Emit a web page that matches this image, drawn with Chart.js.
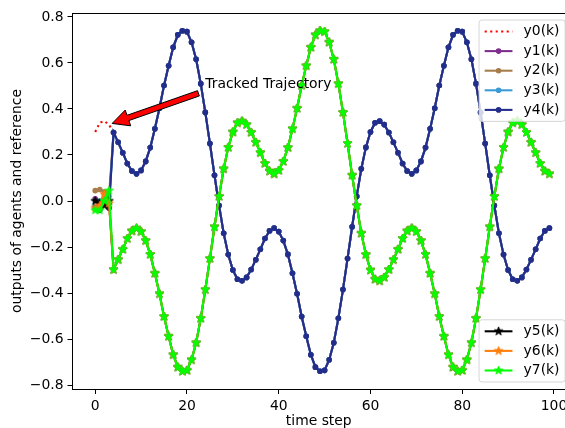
<!DOCTYPE html>
<html>
<head>
<meta charset="utf-8">
<script src="https://cdn.jsdelivr.net/npm/chart.js@4.4.1/dist/chart.umd.min.js"></script>
<style>
  html, body { margin: 0; padding: 0; overflow: hidden; background: #fff; }
  #wrap { width: 565px; height: 428px; }
</style>
</head>
<body>
<div id="wrap"><canvas id="outputs" width="565" height="428"></canvas></div>
<script>
// reference trajectory y0(k), k = 0..99
const reference = [
   0.300,  0.340,  0.347,  0.332,  0.298,  0.255,  0.210,  0.163,  0.130,  0.118,
   0.133,  0.172,  0.232,  0.314,  0.403,  0.502,  0.588,  0.668,  0.722,  0.740,
   0.736,  0.690,  0.616,  0.510,  0.385,  0.250,  0.112, -0.020, -0.140, -0.233,
  -0.300, -0.340, -0.347, -0.332, -0.298, -0.255, -0.210, -0.163, -0.130, -0.118,
  -0.133, -0.172, -0.232, -0.314, -0.403, -0.502, -0.588, -0.668, -0.722, -0.740,
  -0.736, -0.690, -0.616, -0.510, -0.385, -0.250, -0.112,  0.020,  0.140,  0.233,
   0.300,  0.340,  0.347,  0.332,  0.298,  0.255,  0.210,  0.163,  0.130,  0.118,
   0.133,  0.172,  0.232,  0.314,  0.403,  0.502,  0.588,  0.668,  0.722,  0.740,
   0.736,  0.690,  0.616,  0.510,  0.385,  0.250,  0.112, -0.020, -0.140, -0.233,
  -0.300, -0.340, -0.347, -0.332, -0.298, -0.255, -0.210, -0.163, -0.130, -0.118
];

// opposite-sign trajectory that agents 5..7 settle on, k = 4..99
const mirrored = [
                                  -0.298, -0.255, -0.210, -0.163, -0.130, -0.118,
  -0.133, -0.172, -0.232, -0.314, -0.403, -0.502, -0.588, -0.668, -0.722, -0.740,
  -0.736, -0.690, -0.616, -0.510, -0.385, -0.250, -0.112,  0.020,  0.140,  0.233,
   0.300,  0.340,  0.347,  0.332,  0.298,  0.255,  0.210,  0.163,  0.130,  0.118,
   0.133,  0.172,  0.232,  0.314,  0.403,  0.502,  0.588,  0.668,  0.722,  0.740,
   0.736,  0.690,  0.616,  0.510,  0.385,  0.250,  0.112, -0.020, -0.140, -0.233,
  -0.300, -0.340, -0.347, -0.332, -0.298, -0.255, -0.210, -0.163, -0.130, -0.118,
  -0.133, -0.172, -0.232, -0.314, -0.403, -0.502, -0.588, -0.668, -0.722, -0.740,
  -0.736, -0.690, -0.616, -0.510, -0.385, -0.250, -0.112,  0.020,  0.140,  0.233,
   0.300,  0.340,  0.347,  0.332,  0.298,  0.255,  0.210,  0.163,  0.130,  0.118
];

// agent outputs for k = 0..3, before they lock on
const startY1 = [0.010, -0.020, 0.030, -0.010];
const startY2 = [0.045, 0.050, 0.040, 0.020];
const startY3 = [-0.020, 0.000, 0.020, -0.030];
const startY4 = [-0.030, -0.040, 0.010, -0.030];
const startY5 = [0.000, -0.010, -0.020, 0.000];
const startY6 = [-0.030, -0.020, 0.030, -0.010];
const startY7 = [-0.040, -0.040, 0.000, 0.045];

const seriesNames = ['y0(k)', 'y1(k)', 'y2(k)', 'y3(k)', 'y4(k)', 'y5(k)', 'y6(k)', 'y7(k)'];
const seriesColors = ['#ff0000', '#7e2f8e', '#a67d4b', '#3b9bd6', '#232d8c', '#000000', '#ff7f0e', '#00ff00'];

const xTicks = [0, 20, 40, 60, 80, 100];
const yTicks = [-0.8, -0.6, -0.4, -0.2, 0.0, 0.2, 0.4, 0.6, 0.8];

// the axes run to 103.95 but the figure is cropped at about 102.4
const xMin = -4.95, xVisibleMax = 102.4, xAxesEnd = 103.95;

// annotation anchors in data units
const arrowTip = [3.7, 0.337];
const arrowTail = [22.5, 0.468];
const noteAt = [24, 0.49];
const noteText = 'Tracked Trajectory';

const FONT = '"DejaVu Sans", sans-serif';
const FS = 13.9;
const LW = 2.08;

const toPoints = (vals) => vals.map((v, k) => ({ x: k, y: v }));

// five-pointed star marker, drawn once per colour
function starMarker(color) {
  const r = 4.5, size = 13;
  const c = document.createElement('canvas');
  c.width = c.height = size;
  const g = c.getContext('2d');
  g.translate(size / 2, size / 2);
  g.beginPath();
  for (let i = 0; i < 10; i++) {
    const rad = i % 2 ? r * 0.382 : r;
    const a = -Math.PI / 2 + i * Math.PI / 5;
    g.lineTo(rad * Math.cos(a), rad * Math.sin(a));
  }
  g.closePath();
  g.fillStyle = color;
  g.fill();
  g.strokeStyle = color;
  g.lineWidth = 1;
  g.stroke();
  return c;
}

const starts = [startY1, startY2, startY3, startY4, startY5, startY6, startY7];
const datasets = [];

datasets.push({
  label: seriesNames[0],
  data: toPoints(reference),
  borderColor: seriesColors[0],
  borderWidth: LW,
  borderDash: [2.1, 3.4],
  pointRadius: 0,
  order: 7
});

starts.forEach((s, i) => {
  const n = i + 1;
  const upper = n <= 4;
  const color = seriesColors[n];
  datasets.push({
    label: seriesNames[n],
    data: toPoints(s.concat(upper ? reference.slice(4) : mirrored)),
    borderColor: color,
    backgroundColor: color,
    borderWidth: LW,
    pointStyle: upper ? 'circle' : starMarker(color),
    pointRadius: upper ? 2.1 : 4,
    pointBorderWidth: 1.4,
    pointBorderColor: color,
    pointBackgroundColor: color,
    order: 7 - n
  });
});

function roundBox(ctx, x, y, w, h, r) {
  ctx.beginPath();
  ctx.moveTo(x + r, y);
  ctx.arcTo(x + w, y, x + w, y + h, r);
  ctx.arcTo(x + w, y + h, x, y + h, r);
  ctx.arcTo(x, y + h, x, y, r);
  ctx.arcTo(x, y, x + w, y, r);
  ctx.closePath();
}

function drawLegend(chart, ids, anchor) {
  const ctx = chart.ctx;
  const area = chart.chartArea;
  const axesRight = chart.scales.x.getPixelForValue(xAxesEnd);
  const pad = 11.5, step = 19.6;
  ctx.save();
  ctx.font = FS + 'px ' + FONT;
  const textW = Math.max(...ids.map(i => ctx.measureText(seriesNames[i]).width));
  const w = 44.5 + textW + 5.6;
  const h = pad * 2 + step * (ids.length - 1);
  const x = axesRight - 7 - w;
  const y = anchor === 'top' ? area.top + 7 : area.bottom - 7 - h;

  roundBox(ctx, x, y, w, h, 2.8);
  ctx.fillStyle = 'rgba(255,255,255,0.8)';
  ctx.fill();
  ctx.strokeStyle = 'rgba(204,204,204,0.8)';
  ctx.lineWidth = 1;
  ctx.stroke();

  ids.forEach((id, j) => {
    const ds = chart.data.datasets[id];
    const cy = y + pad + j * step;
    const x0 = x + 5.6, x1 = x0 + 27.8;
    ctx.strokeStyle = ds.borderColor;
    ctx.lineWidth = LW;
    ctx.setLineDash(ds.borderDash || []);
    ctx.beginPath();
    ctx.moveTo(x0, cy);
    ctx.lineTo(x1, cy);
    ctx.stroke();
    ctx.setLineDash([]);
    const mx = (x0 + x1) / 2;
    if (ds.pointStyle instanceof HTMLCanvasElement) {
      ctx.drawImage(ds.pointStyle, mx - ds.pointStyle.width / 2, cy - ds.pointStyle.height / 2);
    } else if (ds.pointRadius > 0) {
      ctx.beginPath();
      ctx.arc(mx, cy, ds.pointRadius, 0, Math.PI * 2);
      ctx.fillStyle = ds.borderColor;
      ctx.fill();
      ctx.lineWidth = ds.pointBorderWidth;
      ctx.stroke();
    }
    ctx.fillStyle = '#000';
    ctx.textAlign = 'left';
    ctx.textBaseline = 'middle';
    ctx.fillText(seriesNames[id], x + 44.5, cy);
  });
  ctx.restore();
}

// top spine, the arrow note and both legend boxes
const overlay = {
  id: 'overlay',
  afterDatasetsDraw(chart) {
    const ctx = chart.ctx;
    const { left, right, top } = chart.chartArea;
    const sx = chart.scales.x, sy = chart.scales.y;

    ctx.save();
    ctx.strokeStyle = '#000';
    ctx.lineWidth = 1;
    ctx.beginPath();
    ctx.moveTo(left, Math.round(top) + 0.5);
    ctx.lineTo(right, Math.round(top) + 0.5);
    ctx.stroke();

    // arrow from the note to the start of the reference
    const tx = sx.getPixelForValue(arrowTip[0]), ty = sy.getPixelForValue(arrowTip[1]);
    const bx = sx.getPixelForValue(arrowTail[0]), by = sy.getPixelForValue(arrowTail[1]);
    const len = Math.hypot(tx - bx, ty - by);
    const ux = (tx - bx) / len, uy = (ty - by) / len;
    const nx = -uy, ny = ux;
    const sw = 5.6 / 2, hw = 16.7 / 2, hl = 16.7;
    const kx = tx - ux * hl, ky = ty - uy * hl;
    ctx.beginPath();
    ctx.moveTo(bx + nx * sw, by + ny * sw);
    ctx.lineTo(kx + nx * sw, ky + ny * sw);
    ctx.lineTo(kx + nx * hw, ky + ny * hw);
    ctx.lineTo(tx, ty);
    ctx.lineTo(kx - nx * hw, ky - ny * hw);
    ctx.lineTo(kx - nx * sw, ky - ny * sw);
    ctx.lineTo(bx - nx * sw, by - ny * sw);
    ctx.closePath();
    ctx.fillStyle = '#ff0000';
    ctx.fill();
    ctx.lineWidth = 1;
    ctx.strokeStyle = '#000';
    ctx.stroke();

    ctx.fillStyle = '#000';
    ctx.font = FS + 'px ' + FONT;
    ctx.textAlign = 'left';
    ctx.textBaseline = 'alphabetic';
    ctx.fillText(noteText, sx.getPixelForValue(noteAt[0]), sy.getPixelForValue(noteAt[1]));
    ctx.restore();

    drawLegend(chart, [0, 1, 2, 3, 4], 'top');
    drawLegend(chart, [5, 6, 7], 'bottom');
  }
};

const fmt = (v) => v.toFixed(1).replace('-', '\u2212');

// keep the plot box fixed: no extra room reserved for edge tick labels
const noEdgePadding = (s) => {
  s.paddingLeft = 0;
  s.paddingRight = 0;
  s.paddingTop = 0;
  s.paddingBottom = 0;
};

new Chart(document.getElementById('outputs'), {
  type: 'line',
  data: { datasets: datasets },
  options: {
    responsive: false,
    animation: false,
    events: [],
    layout: { autoPadding: false, padding: { top: 13, left: 0, right: 0, bottom: 0 } },
    elements: { line: { tension: 0 } },
    plugins: { legend: { display: false }, tooltip: { enabled: false } },
    scales: {
      x: {
        type: 'linear',
        min: xMin,
        max: xVisibleMax,
        afterBuildTicks: (s) => { s.ticks = xTicks.map(v => ({ value: v })); },
        afterFit: (s) => { s.height = 39; noEdgePadding(s); },
        ticks: { autoSkip: false, maxRotation: 0, padding: 4, color: '#000', font: { family: FONT, size: FS }, callback: (v) => String(v) },
        grid: { drawOnChartArea: false, drawTicks: true, tickLength: 5, color: '#000', tickColor: '#000', tickWidth: 1 },
        border: { display: true, color: '#000', width: 1 },
        title: { display: true, text: 'time step', color: '#000', font: { family: FONT, size: FS, lineHeight: 1 }, padding: { top: 0, bottom: 0 } }
      },
      y: {
        type: 'linear',
        min: -0.817,
        max: 0.817,
        afterBuildTicks: (s) => { s.ticks = yTicks.map(v => ({ value: v })); },
        afterFit: (s) => { s.width = 72.5; noEdgePadding(s); },
        ticks: { autoSkip: false, padding: 4, color: '#000', font: { family: FONT, size: FS }, callback: (v) => fmt(v) },
        grid: { drawOnChartArea: false, drawTicks: true, tickLength: 5, color: '#000', tickColor: '#000', tickWidth: 1 },
        border: { display: true, color: '#000', width: 1 },
        title: { display: true, text: 'outputs of agents and reference', color: '#000', font: { family: FONT, size: FS }, padding: { top: 9, bottom: 0 } }
      }
    }
  },
  plugins: [overlay]
});
</script>
</body>
</html>
